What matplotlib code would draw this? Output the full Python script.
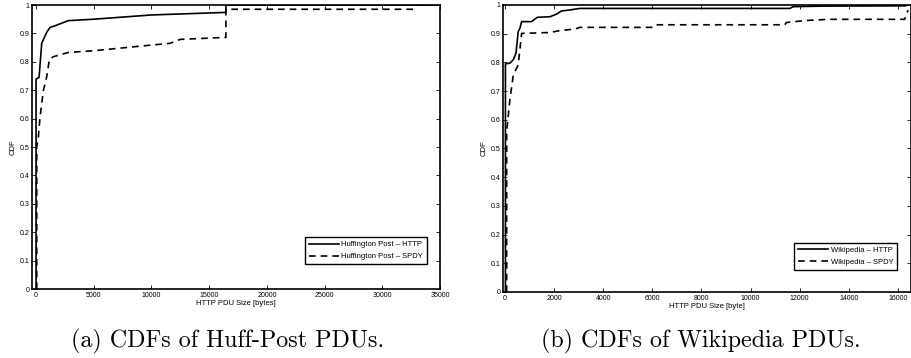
import matplotlib
matplotlib.use("Agg")
import matplotlib.pyplot as plt

# Huffington Post PDU sizes [bytes] and CDF values
huff_http_x = [0, 0, 260, 490, 925, 1210, 1650, 2800, 5000, 10000, 16450, 16450, 35000]
huff_http_y = [0.0, 0.739, 0.745, 0.865, 0.904, 0.921, 0.927, 0.945, 0.95, 0.965, 0.974, 1.0, 1.0]

huff_spdy_x = [60, 60, 200, 350, 640, 925, 1160, 1500, 2800, 5000, 10000, 11600, 12500,
               16450, 16450, 32700, 33000, 35000]
huff_spdy_y = [0.0, 0.5, 0.536, 0.607, 0.70, 0.748, 0.809, 0.818, 0.833, 0.839, 0.859,
               0.865, 0.879, 0.886, 0.985, 0.985, 1.0, 1.0]

# Wikipedia PDU sizes [byte]
wiki_http_x = [20, 20, 200, 340, 450, 540, 610, 680, 1085, 1315, 1830, 2100, 2300, 2580,
               3050, 11600, 11730, 12880, 16300, 16400]
wiki_http_y = [0.0, 0.795, 0.797, 0.809, 0.832, 0.907, 0.919, 0.942, 0.942, 0.957, 0.959,
               0.968, 0.979, 0.982, 0.988, 0.988, 0.994, 0.996, 0.997, 1.0]

wiki_spdy_x = [70, 70, 200, 340, 540, 680, 1830, 2240, 2850, 3050, 5970, 6100, 11390,
               11460, 12270, 13220, 16270, 16410]
wiki_spdy_y = [0.0, 0.559, 0.669, 0.756, 0.791, 0.901, 0.904, 0.911, 0.916, 0.922, 0.922,
               0.931, 0.931, 0.939, 0.946, 0.95, 0.95, 0.982]

huff_xticks = [0, 5000, 10000, 15000, 20000, 25000, 30000, 35000]
wiki_xticks = [0, 2000, 4000, 6000, 8000, 10000, 12000, 14000, 16000]
yticks = [0, 0.1, 0.2, 0.3, 0.4, 0.5, 0.6, 0.7, 0.8, 0.9, 1]

plt.rcParams["font.family"] = ["Liberation Sans", "DejaVu Sans"]

fig = plt.figure(figsize=(9.12, 3.58), dpi=100)
ax1 = fig.add_axes([0.0351, 0.1927, 0.4474, 0.7933])
ax2 = fig.add_axes([0.5515, 0.1844, 0.4474, 0.8017])


def style_axes(ax, xticks, xlim, xlabel):
    ax.set_xlim(*xlim)
    ax.set_ylim(0, 1)
    ax.set_xticks(xticks)
    ax.set_xticklabels([str(t) for t in xticks])
    ax.set_yticks(yticks)
    ax.set_yticklabels([f"{t:g}" for t in yticks])
    ax.tick_params(direction="in", top=True, right=True, length=3, width=0.6,
                   labelsize=5, pad=2, colors="black")
    for sp in ax.spines.values():
        sp.set_linewidth(1.2)
    ax.set_xlabel(xlabel, fontsize=5.5, labelpad=1)
    ax.set_ylabel("CDF", fontsize=5.5, labelpad=2)


ax1.plot(huff_http_x, huff_http_y, color="black", lw=1.2, label="Huffington Post \u2013 HTTP")
ax1.plot(huff_spdy_x, huff_spdy_y, color="black", lw=1.2, ls=(0, (4, 3)),
         label="Huffington Post \u2013 SPDY")
style_axes(ax1, huff_xticks, (-350, 35000), "HTTP PDU Size [bytes]")
leg1 = ax1.legend(loc="lower right", bbox_to_anchor=(0.968, 0.088), borderaxespad=0,
                  fontsize=5.5, fancybox=False, edgecolor="black", framealpha=1,
                  handlelength=4, handletextpad=0.3, borderpad=0.5, labelspacing=0.6)
leg1.get_frame().set_linewidth(1.0)

ax2.plot(wiki_http_x, wiki_http_y, color="black", lw=1.2, label="Wikipedia \u2013 HTTP")
ax2.plot(wiki_spdy_x, wiki_spdy_y, color="black", lw=1.2, ls=(0, (4, 3)),
         label="Wikipedia \u2013 SPDY")
style_axes(ax2, wiki_xticks, (-80, 16530), "HTTP PDU Size [byte]")
leg2 = ax2.legend(loc="lower right", bbox_to_anchor=(0.966, 0.077), borderaxespad=0,
                  fontsize=5.5, fancybox=False, edgecolor="black", framealpha=1,
                  handlelength=4, handletextpad=0.3, borderpad=0.5, labelspacing=0.6)
leg2.get_frame().set_linewidth(1.0)

cap_font = ["cmr10", "DejaVu Serif"]
fig.text(0.249, 0.047, "(a) CDFs of Huff-Post PDUs.", ha="center", va="center",
         fontsize=17.3, family=cap_font)
fig.text(0.768, 0.047, "(b) CDFs of Wikipedia PDUs.", ha="center", va="center",
         fontsize=17.3, family=cap_font)

fig.savefig("out.png", dpi=100)
